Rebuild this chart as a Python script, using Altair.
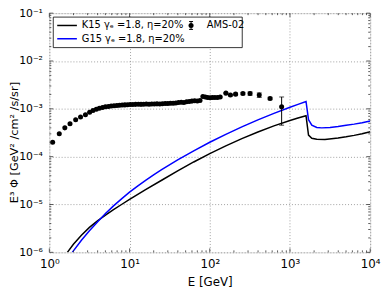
import altair as alt
import pandas as pd

# ---- data (log10 E, log10 E^3 Phi) ----
k15_logE = [0.225, 0.3, 0.4, 0.5, 0.6, 0.7, 0.8, 0.9, 1.0, 1.2, 1.4, 1.6, 1.8, 2.0, 2.2, 2.4, 2.6,
            2.8, 3.0, 3.1, 3.2, 3.231, 3.272, 3.334, 3.436, 3.6, 3.7, 3.8, 3.9, 4.0]
k15_logF = [-6.0, -5.831, -5.641, -5.479, -5.341, -5.221, -5.108, -5.0, -4.895, -4.691, -4.493,
            -4.299, -4.111, -3.935, -3.773, -3.623, -3.485, -3.357, -3.243, -3.192, -3.145, -3.55,
            -3.616, -3.637, -3.64, -3.61, -3.585, -3.555, -3.52, -3.48]

g15_logE = [0.286, 0.4, 0.5, 0.6, 0.7, 0.8, 0.9, 1.0, 1.1, 1.2, 1.3, 1.4, 1.6, 1.8, 2.0, 2.2, 2.4,
            2.6, 2.8, 3.0, 3.1, 3.2, 3.231, 3.272, 3.334, 3.395, 3.5, 3.6, 3.7, 3.8, 3.9, 4.0]
g15_logF = [-6.0, -5.749, -5.549, -5.364, -5.189, -5.029, -4.882, -4.742, -4.615, -4.495, -4.381,
            -4.273, -4.069, -3.877, -3.699, -3.533, -3.377, -3.231, -3.095, -2.967, -2.906, -2.847,
            -3.226, -3.343, -3.39, -3.398, -3.39, -3.37, -3.345, -3.32, -3.29, -3.255]

ams_E = [1.1, 1.33, 1.56, 1.81, 2.13, 2.45, 2.82, 3.18, 3.5, 3.85, 4.2, 4.6, 5.0, 5.45, 5.9, 6.4, 6.95,
         7.5, 8.1, 8.75, 9.45, 10.2, 11.0, 11.9, 12.9, 13.9, 15.0, 16.2, 17.5, 18.9, 20.4, 22.0, 23.8,
         25.7, 27.8, 30.0, 32.4, 35.0, 37.8, 40.8, 44.1, 47.6, 51.4, 55.5, 60.0, 64.8, 70.0, 75.6, 82.0,
         88.0, 94.0, 101, 108, 116, 125, 135, 159, 181, 210, 259, 318, 414, 565, 787]
ams_F = [2.0e-4, 3.0e-4, 4.0e-4, 4.9e-4, 5.9e-4, 6.75e-4, 7.5e-4, 8.5e-4, 9.2e-4, 9.8e-4, 1.03e-3,
         1.07e-3, 1.10e-3, 1.12e-3, 1.14e-3, 1.16e-3, 1.18e-3, 1.19e-3, 1.20e-3, 1.21e-3, 1.22e-3,
         1.23e-3, 1.23e-3, 1.24e-3, 1.25e-3, 1.24e-3, 1.25e-3, 1.26e-3, 1.25e-3, 1.26e-3, 1.26e-3,
         1.27e-3, 1.26e-3, 1.28e-3, 1.29e-3, 1.30e-3, 1.31e-3, 1.31e-3, 1.33e-3, 1.35e-3, 1.37e-3,
         1.36e-3, 1.40e-3, 1.42e-3, 1.45e-3, 1.48e-3, 1.46e-3, 1.50e-3, 1.82e-3, 1.76e-3, 1.72e-3,
         1.71e-3, 1.72e-3, 1.72e-3, 1.73e-3, 1.76e-3, 2.13e-3, 1.94e-3, 2.03e-3, 2.09e-3, 2.09e-3,
         1.94e-3, 1.65e-3, 1.11e-3]
# error bars (only visible at high energy)
err_E = [159, 181, 210, 259, 318, 414, 565, 787]
err_lo = [2.07e-3, 1.87e-3, 1.93e-3, 1.97e-3, 1.92e-3, 1.73e-3, 1.55e-3, 0.455e-3]
err_hi = [2.19e-3, 2.01e-3, 2.13e-3, 2.21e-3, 2.26e-3, 2.15e-3, 1.75e-3, 1.77e-3]

x_ticks = [1, 10, 100, 1000, 10000]
y_ticks = [1e-6, 1e-5, 1e-4, 1e-3, 1e-2, 1e-1]
x_minor = [m * d for d in [1, 10, 100, 1000] for m in range(2, 10)]
y_minor = [m * d for d in [1e-6, 1e-5, 1e-4, 1e-3, 1e-2] for m in range(2, 10)]

legend_k15 = "K15 γₑ =1.8, η=20%"
legend_g15 = "G15 γₑ =1.8, η=20%"
legend_ams = "AMS-02"

W, H = 326, 243
FONT = "DejaVu Sans"

xs = alt.Scale(type="log", domain=[1, 10000], nice=False)
ys = alt.Scale(type="log", domain=[1e-6, 1e-1], nice=False)

x_axis = alt.Axis(values=x_ticks, grid=True, gridDash=[1, 2], gridColor="#888", gridWidth=0.8,
                  ticks=False, domain=False, labelFont=FONT, labelFontSize=12, labelColor="black",
                  labelPadding=6, labelFlush=False,
                  labelExpr="'10' + ['⁰','¹','²','³','⁴'][round(log(datum.value)/LN10)]",
                  title="E [GeV]", titleFont=FONT, titleFontSize=12, titleFontWeight="normal",
                  titleColor="black", titlePadding=8)
y_axis = alt.Axis(values=y_ticks, grid=True, gridDash=[1, 2], gridColor="#888", gridWidth=0.8,
                  ticks=False, domain=False, labelFont=FONT, labelFontSize=11, labelColor="black",
                  labelPadding=7, labelFlush=False,
                  labelExpr="'10' + ['⁻⁶','⁻⁵','⁻⁴','⁻³','⁻²','⁻¹'][round(log(datum.value)/LN10)+6]",
                  title="E³ Φ [GeV² /cm² /s/sr]", titleFont=FONT, titleFontSize=11.5,
                  titleFontWeight="normal", titleColor="black",
                  titleX=-35, titleY=131, titleAngle=270, titleAlign="center",
                  titleBaseline="middle")

df_k = pd.DataFrame({"E": [10 ** v for v in k15_logE], "F": [10 ** v for v in k15_logF]})
df_g = pd.DataFrame({"E": [10 ** v for v in g15_logE], "F": [10 ** v for v in g15_logF]})
df_a = pd.DataFrame({"E": ams_E, "F": ams_F})
df_e = pd.DataFrame({"E": err_E, "lo": err_lo, "hi": err_hi})

base_grid = alt.Chart(df_a).mark_point(opacity=0).encode(
    x=alt.X("E:Q", scale=xs, axis=x_axis),
    y=alt.Y("F:Q", scale=ys, axis=y_axis),
)

line_k = alt.Chart(df_k).mark_line(color="black", strokeWidth=1.5, clip=True).encode(
    x=alt.X("E:Q", scale=xs), y=alt.Y("F:Q", scale=ys))
line_g = alt.Chart(df_g).mark_line(color="#0000ff", strokeWidth=1.5, clip=True).encode(
    x=alt.X("E:Q", scale=xs), y=alt.Y("F:Q", scale=ys))

err_bar = alt.Chart(df_e).mark_rule(color="black", strokeWidth=1).encode(
    x=alt.X("E:Q", scale=xs), y=alt.Y("lo:Q", scale=ys), y2="hi:Q")
cap_lo = alt.Chart(df_e).mark_tick(color="black", orient="horizontal", size=5, thickness=1).encode(
    x=alt.X("E:Q", scale=xs), y=alt.Y("lo:Q", scale=ys))
cap_hi = alt.Chart(df_e).mark_tick(color="black", orient="horizontal", size=5, thickness=1).encode(
    x=alt.X("E:Q", scale=xs), y=alt.Y("hi:Q", scale=ys))
pts = alt.Chart(df_a).mark_circle(color="black", size=26, opacity=1).encode(
    x=alt.X("E:Q", scale=xs), y=alt.Y("F:Q", scale=ys))

# ticks inside the frame on all four sides
df_xt = pd.DataFrame({"E": x_ticks})
df_xm = pd.DataFrame({"E": x_minor})
df_yt = pd.DataFrame({"F": y_ticks})
df_ym = pd.DataFrame({"F": y_minor})
tick_color = "#333"
ticks = []
for d, ln in [(df_xt, 4), (df_xm, 2)]:
    ticks.append(alt.Chart(d).mark_rule(color=tick_color, strokeWidth=0.8).encode(
        x=alt.X("E:Q", scale=xs), y=alt.value(H), y2=alt.value(H - ln)))
    ticks.append(alt.Chart(d).mark_rule(color=tick_color, strokeWidth=0.8).encode(
        x=alt.X("E:Q", scale=xs), y=alt.value(0), y2=alt.value(ln)))
for d, ln in [(df_yt, 4), (df_ym, 2)]:
    ticks.append(alt.Chart(d).mark_rule(color=tick_color, strokeWidth=0.8).encode(
        y=alt.Y("F:Q", scale=ys), x=alt.value(0), x2=alt.value(ln)))
    ticks.append(alt.Chart(d).mark_rule(color=tick_color, strokeWidth=0.8).encode(
        y=alt.Y("F:Q", scale=ys), x=alt.value(W), x2=alt.value(W - ln)))

# legend drawn by hand
one = pd.DataFrame({"a": [0]})
leg_box = alt.Chart(one).mark_rect(fill="white", stroke="black", strokeWidth=0.8).encode(
    x=alt.value(4), x2=alt.value(196), y=alt.value(4), y2=alt.value(35))
leg_k_line = alt.Chart(one).mark_rule(color="black", strokeWidth=1.5).encode(
    x=alt.value(8), x2=alt.value(28), y=alt.value(12.5))
leg_g_line = alt.Chart(one).mark_rule(color="#0000ff", strokeWidth=1.5).encode(
    x=alt.value(8), x2=alt.value(28), y=alt.value(26))
leg_k_txt = alt.Chart(pd.DataFrame({"t": [legend_k15]})).mark_text(
    align="left", baseline="middle", font=FONT, fontSize=10, color="black").encode(
    x=alt.value(33), y=alt.value(12.5), text="t:N")
leg_g_txt = alt.Chart(pd.DataFrame({"t": [legend_g15]})).mark_text(
    align="left", baseline="middle", font=FONT, fontSize=10, color="black").encode(
    x=alt.value(33), y=alt.value(26), text="t:N")
leg_a_bar = alt.Chart(one).mark_rule(color="black", strokeWidth=1).encode(
    x=alt.value(144), y=alt.value(8.5), y2=alt.value(16.5))
leg_a_cap1 = alt.Chart(one).mark_rule(color="black", strokeWidth=1).encode(
    x=alt.value(142), x2=alt.value(146), y=alt.value(8.5))
leg_a_cap2 = alt.Chart(one).mark_rule(color="black", strokeWidth=1).encode(
    x=alt.value(142), x2=alt.value(146), y=alt.value(16.5))
leg_a_pt = alt.Chart(one).mark_circle(color="black", size=26, opacity=1).encode(
    x=alt.value(144), y=alt.value(12.5))
leg_a_txt = alt.Chart(pd.DataFrame({"t": [legend_ams]})).mark_text(
    align="left", baseline="middle", font=FONT, fontSize=10, color="black").encode(
    x=alt.value(160), y=alt.value(12.5), text="t:N")

chart = alt.layer(
    base_grid, line_k, line_g, err_bar, cap_lo, cap_hi, pts, *ticks,
    leg_box, leg_k_line, leg_g_line, leg_k_txt, leg_g_txt,
    leg_a_bar, leg_a_cap1, leg_a_cap2, leg_a_pt, leg_a_txt,
).properties(
    width=W, height=H,
    autosize=alt.AutoSizeParams(type="none"),
    padding={"left": 42, "top": 3, "right": 12, "bottom": 35},
).configure_view(
    stroke="#333", strokeWidth=1
).configure(background="white")

chart.save("out.html", embed_options={"renderer": "svg", "actions": False})
